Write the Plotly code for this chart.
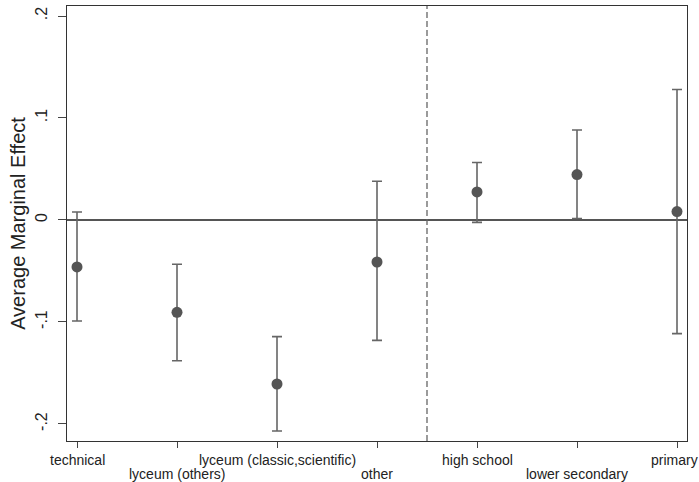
import plotly.graph_objects as go

categories = ["technical", "lyceum (others)", "lyceum (classic,scientific)", "other",
              "high school", "lower secondary", "primary"]
positions = [1, 2, 3, 4, 5, 6, 7]
estimate = [-0.046, -0.0905, -0.1608, -0.0412, 0.0275, 0.0445, 0.0082]
upper = [0.0078, -0.0434, -0.1144, 0.038, 0.0563, 0.0882, 0.128]
lower = [-0.099, -0.138, -0.2069, -0.118, -0.0023, 0.0014, -0.1114]
y_tickvals = [-0.2, -0.1, 0, 0.1, 0.2]
y_ticktext = ["-.2", "-.1", "0", ".1", ".2"]
divider_x = 4.5

err_plus = [u - e for u, e in zip(upper, estimate)]
err_minus = [e - l for e, l in zip(estimate, lower)]

fig = go.Figure()
fig.add_trace(go.Scatter(
    x=positions, y=estimate, mode="markers",
    marker=dict(color="#555555", size=11),
    error_y=dict(type="data", symmetric=False, array=err_plus, arrayminus=err_minus,
                 color="#666666", thickness=1.6, width=5),
    showlegend=False, hoverinfo="skip",
))

fig.add_shape(type="line", xref="x", yref="paper", x0=divider_x, x1=divider_x, y0=0, y1=1,
              line=dict(color="#666666", width=1.3, dash="6px,3px"))

annotations = []
n = len(positions)
for i, (p, c) in enumerate(zip(positions, categories)):
    annotations.append(dict(x=p, y=0, xref="x", yref="paper", text=c, showarrow=False,
                            xanchor="center", yanchor="top",
                            yshift=-9 if i % 2 == 0 else -23,
                            xshift=-3 if i == n - 1 else 0,
                            font=dict(family="Liberation Sans, Arial", size=14, color="#222")))

fig.update_layout(
    width=699, height=482,
    margin=dict(l=67, r=12, t=6, b=41, autoexpand=False),
    paper_bgcolor="white", plot_bgcolor="white",
    font=dict(family="Liberation Sans, Arial", color="#222"),
    annotations=annotations,
    xaxis=dict(range=[0.9, 7.1], tickvals=positions, ticktext=[""] * len(positions),
               ticks="outside", ticklen=6, tickcolor="#444", showgrid=False, zeroline=False,
               showline=True, linecolor="#333", linewidth=1.3, mirror=True, automargin=False),
    yaxis=dict(range=[-0.2167, 0.2098], tickvals=y_tickvals, ticktext=y_ticktext,
               tickangle=-90, ticks="outside", ticklen=8, tickcolor="#444",
               tickfont=dict(size=16), showgrid=False, automargin=False,
               ticklabelstandoff=4,
               zeroline=True, zerolinecolor="#555555", zerolinewidth=1.5,
               showline=True, linecolor="#333", linewidth=1.3, mirror=True,
               title=dict(text="Average Marginal Effect", font=dict(size=20), standoff=2)),
)

fig.write_html("out.html", config={"displayModeBar": False},
               post_script="document.body.style.margin='0';document.body.style.overflow='hidden';")
